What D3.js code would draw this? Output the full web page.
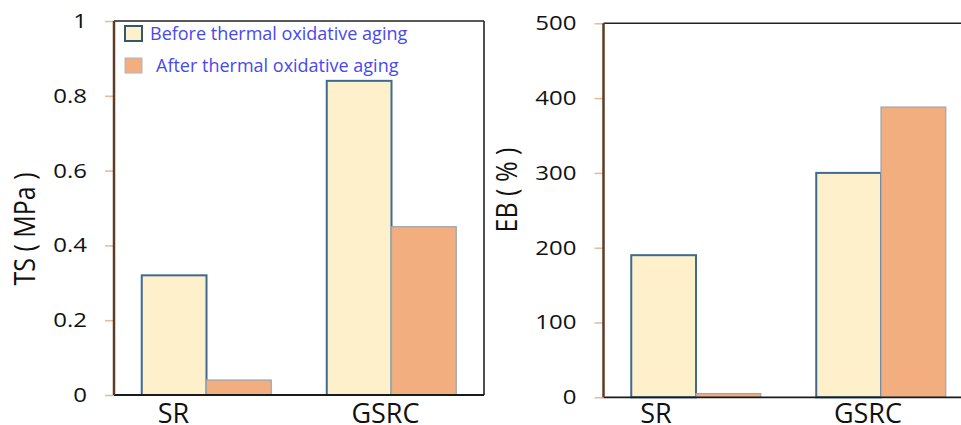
<!DOCTYPE html>
<html>
<head>
<meta charset="utf-8">
<script src="https://cdn.jsdelivr.net/npm/d3@7"></script>
<style>
  body { margin: 0; background: #fff; }
  text { font-family: 'Open Sans', sans-serif; }
</style>
</head>
<body>
<div id="chart"></div>
<script>
// datos
const categories = ['SR', 'GSRC'];
const series = ['Before thermal oxidative aging', 'After thermal oxidative aging'];
const tsBefore = [0.32, 0.84];
const tsAfter = [0.04, 0.45];
const ebBefore = [190, 300];
const ebAfter = [5, 388];
const tsTicks = [0, 0.2, 0.4, 0.6, 0.8, 1];
const ebTicks = [0, 100, 200, 300, 400, 500];

const width = 961;
const height = 425;
const fills = ['#fff0cc', '#f3ae80'];
const strokes = ['#3d6a8e', '#98a4b0'];

const svg = d3.select('#chart')
  .append('svg')
  .attr('width', width)
  .attr('height', height);

function drawPanel(p) {
  const g = svg.append('g').attr('class', 'panel');

  const x = d3.scaleBand()
    .domain(categories)
    .range([p.x0, p.x1])
    .paddingInner(0.3)
    .paddingOuter(0.15);

  const xs = d3.scaleBand()
    .domain(series)
    .range([0, x.bandwidth()]);

  const y = d3.scaleLinear()
    .domain([0, p.max])
    .range([p.bottom, p.top]);

  // marco
  g.append('line')
    .attr('x1', p.x0).attr('x2', p.x1)
    .attr('y1', p.top).attr('y2', p.top)
    .attr('stroke', '#222').attr('stroke-width', 1.6);
  g.append('line')
    .attr('x1', p.x1).attr('x2', p.x1)
    .attr('y1', p.top).attr('y2', p.bottom)
    .attr('stroke', '#222').attr('stroke-width', 1.6);

  // barras
  const rows = categories.map((c, i) => ({ cat: c, vals: [p.before[i], p.after[i]] }));
  const groups = g.selectAll('.grupo')
    .data(rows)
    .enter()
    .append('g')
    .attr('transform', d => `translate(${x(d.cat)},0)`);

  groups.selectAll('rect')
    .data(d => d.vals.map((v, j) => ({ s: series[j], v: v, j: j })))
    .enter()
    .append('rect')
    .attr('x', d => xs(d.s))
    .attr('width', xs.bandwidth())
    .attr('y', d => y(d.v))
    .attr('height', d => y(0) - y(d.v))
    .attr('fill', d => fills[d.j])
    .attr('stroke', d => strokes[d.j])
    .attr('stroke-width', d => d.j === 0 ? 2 : 1.2);

  // eje x
  g.append('line')
    .attr('x1', p.x0).attr('x2', p.x1)
    .attr('y1', p.bottom).attr('y2', p.bottom)
    .attr('stroke', '#1a1a1a').attr('stroke-width', 1.8);

  g.selectAll('.cat')
    .data(categories)
    .enter()
    .append('text')
    .attr('x', (d, i) => x(d) + x.bandwidth() / 2 + p.labelShift[i])
    .attr('y', 423)
    .attr('text-anchor', 'middle')
    .attr('font-size', 27)
    .attr('fill', '#111')
    .text(d => d);

  // eje y
  const axis = d3.axisLeft(y)
    .tickValues(p.ticks)
    .tickFormat(d => `${d}`)
    .tickSize(9)
    .tickPadding(18);

  const gy = g.append('g')
    .attr('transform', `translate(${p.x0},0)`)
    .call(axis);
  gy.select('.domain').remove();
  gy.selectAll('.tick line').attr('stroke', '#eab896').attr('stroke-width', 1.5);
  gy.selectAll('.tick text')
    .attr('font-size', 20)
    .attr('font-family', "'Open Sans', sans-serif")
    .attr('fill', '#111')
    .attr('x', -27 / 1.2)
    .attr('transform', 'scale(1.2,1)');

  g.append('line')
    .attr('x1', p.x0).attr('x2', p.x0)
    .attr('y1', p.top).attr('y2', p.bottom)
    .attr('stroke', '#5e3c24').attr('stroke-width', 2.5);

  g.append('text')
    .attr('transform', `translate(${p.titleX},${p.titleY}) rotate(-90) scale(1,1.18)`)
    .attr('text-anchor', 'middle')
    .attr('font-size', 25)
    .attr('fill', '#111')
    .text(p.title);

  return { x, y, g };
}

const left = drawPanel({
  x0: 114, x1: 484, top: 21, bottom: 395, max: 1,
  before: tsBefore, after: tsAfter, ticks: tsTicks,
  title: 'TS ( MPa )', titleX: 35, titleY: 229,
  labelShift: [-33, -6]
});

drawPanel({
  x0: 603.5, x1: 973.5, top: 23.3, bottom: 397.3, max: 500,
  before: ebBefore, after: ebAfter, ticks: ebTicks,
  title: 'EB ( % )', titleX: 517, titleY: 190,
  labelShift: [-40, -13]
});

// leyenda
const legend = left.g.append('g').attr('class', 'legend');
series.forEach((s, i) => {
  const item = legend.append('g')
    .attr('transform', `translate(125, ${26 + i * 32})`);
  item.append('rect')
    .attr('width', 17)
    .attr('height', 15)
    .attr('fill', fills[i])
    .attr('stroke', i === 0 ? '#34566e' : '#b0b6bc')
    .attr('stroke-width', i === 0 ? 2 : 1);
  item.append('text')
    .attr('x', i === 0 ? 25 : 31)
    .attr('y', 14)
    .attr('font-size', 18)
    .attr('fill', '#4848f0')
    .text(s);
});
</script>
</body>
</html>
